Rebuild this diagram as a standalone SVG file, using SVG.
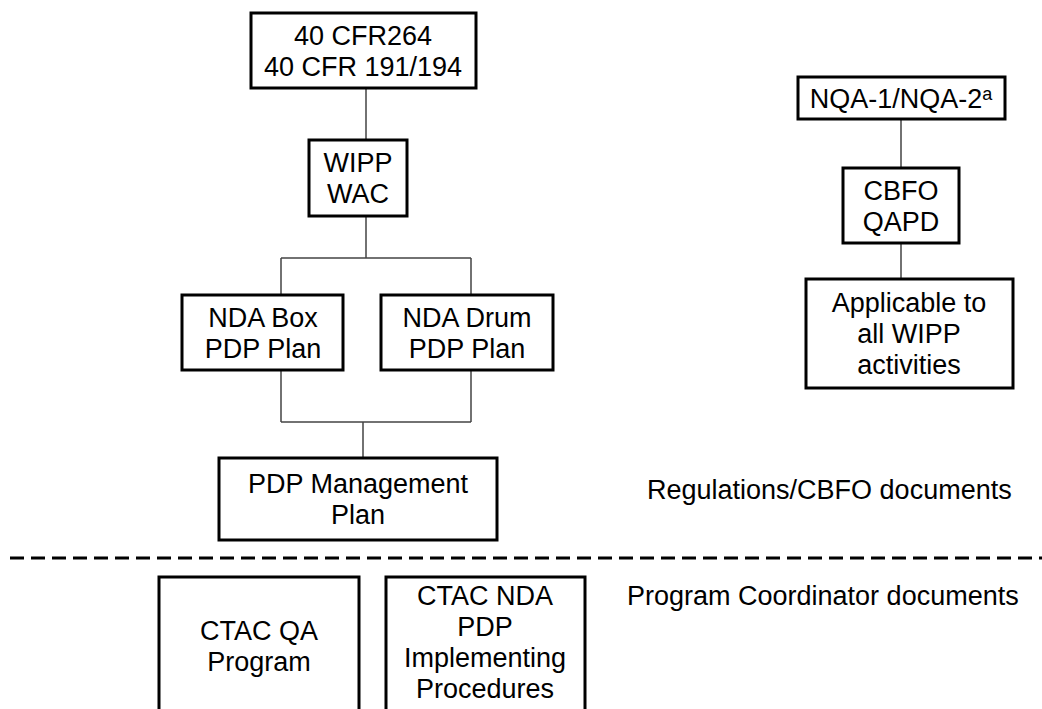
<svg xmlns="http://www.w3.org/2000/svg" width="1042" height="709" viewBox="0 0 1042 709">
<style>
.box{fill:#fff;stroke:#000;stroke-width:3}
.t{font-family:"Liberation Sans",Arial,sans-serif;font-size:27px;fill:#000;text-anchor:middle}
.l{font-family:"Liberation Sans",Arial,sans-serif;font-size:27px;fill:#000}
.c{fill:none;stroke:#444;stroke-width:1.5}
</style>
<rect width="1042" height="709" fill="#fff"/>
<g id="connectors">
<path class="c" d="M366,89 V139 M366,217 V258 M281,258 H471 M281,258 V294 M471,258 V294"/>
<path class="c" d="M281,371 V422 M471,371 V422 M281,422 H471 M363,422 V457"/>
<path class="c" d="M901,120 V167 M901,244 V278"/>
</g>
<g id="n-cfr"><rect class="box" x="251" y="13" width="225" height="75"/>
<text class="t" x="363" y="45">40 CFR264</text><text class="t" x="363" y="76">40 CFR 191/194</text></g>
<g id="n-wac"><rect class="box" x="309" y="140" width="98" height="76"/>
<text class="t" x="358" y="172">WIPP</text><text class="t" x="358" y="203">WAC</text></g>
<g id="n-box"><rect class="box" x="182" y="295" width="161" height="75"/>
<text class="t" x="263" y="327">NDA Box</text><text class="t" x="263" y="358">PDP Plan</text></g>
<g id="n-drum"><rect class="box" x="381" y="295" width="172" height="75"/>
<text class="t" x="467" y="327">NDA Drum</text><text class="t" x="467" y="358">PDP Plan</text></g>
<g id="n-pdp"><rect class="box" x="219" y="458" width="278" height="82"/>
<text class="t" x="358" y="493">PDP Management</text><text class="t" x="358" y="524">Plan</text></g>
<g id="n-nqa"><rect class="box" x="798" y="77" width="207" height="42"/>
<text class="t" x="901" y="108">NQA-1/NQA-2<tspan font-size="18" dy="-8">a</tspan></text></g>
<g id="n-qapd"><rect class="box" x="843" y="168" width="116" height="75"/>
<text class="t" x="901" y="200">CBFO</text><text class="t" x="901" y="231">QAPD</text></g>
<g id="n-all"><rect class="box" x="806" y="279" width="207" height="109"/>
<text class="t" x="909" y="312">Applicable to</text><text class="t" x="909" y="343">all WIPP</text><text class="t" x="909" y="374">activities</text></g>
<text class="l" x="647" y="499">Regulations/CBFO documents</text>
<line x1="10" y1="558" x2="1042" y2="558" stroke="#000" stroke-width="3" stroke-dasharray="14 7"/>
<g id="n-qa"><rect class="box" x="159" y="577" width="200" height="150"/>
<text class="t" x="259" y="640">CTAC QA</text><text class="t" x="259" y="671">Program</text></g>
<g id="n-impl"><rect class="box" x="386" y="577" width="199" height="150"/>
<text class="t" x="485" y="605">CTAC NDA</text><text class="t" x="485" y="636">PDP</text><text class="t" x="485" y="667">Implementing</text><text class="t" x="485" y="698">Procedures</text></g>
<text class="l" x="627" y="605">Program Coordinator documents</text>
</svg>
